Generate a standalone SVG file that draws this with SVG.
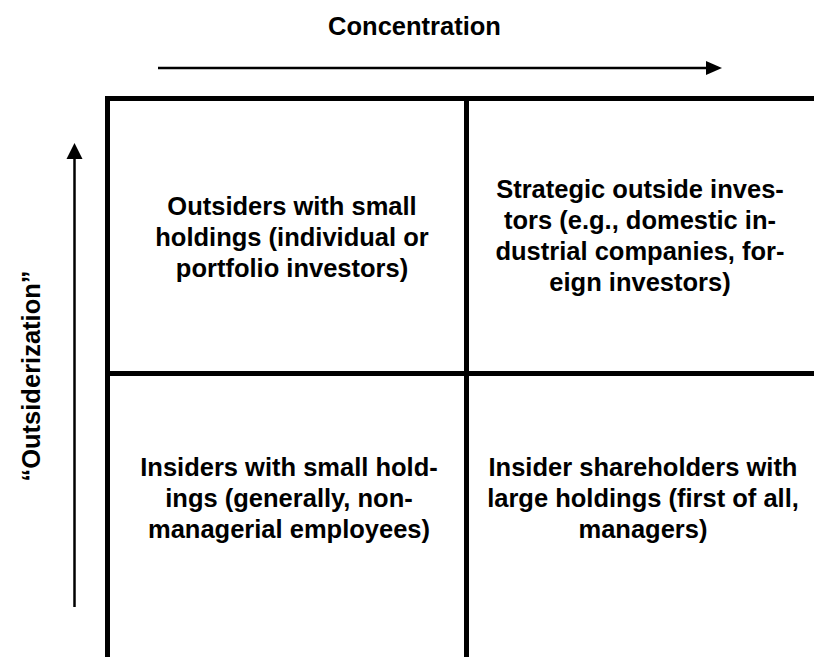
<svg xmlns="http://www.w3.org/2000/svg" width="814" height="657" viewBox="0 0 814 657">
<style>
.t{font-family:"Liberation Sans",Arial,sans-serif;font-weight:bold;font-size:25.5px;fill:#000;text-anchor:middle}
.g{stroke:#000;stroke-width:5;fill:none}
.a{stroke:#000;stroke-width:2.5;fill:none}
</style>
<rect width="814" height="657" fill="#fff"/>
<g id="grid">
<line class="g" x1="105" y1="98.5" x2="814" y2="98.5"/>
<line class="g" x1="107.5" y1="96" x2="107.5" y2="657"/>
<line class="g" x1="466.5" y1="96" x2="466.5" y2="657"/>
<line class="g" x1="105" y1="373.5" x2="814" y2="373.5"/>
</g>
<g id="connectors">
<line class="a" x1="158" y1="68" x2="707" y2="68"/>
<polygon points="706,61 722,68 706,75" fill="#000"/>
<line class="a" x1="74.5" y1="607" x2="74.5" y2="158"/>
<polygon points="66.5,159 74.5,143 82.5,159" fill="#000"/>
</g>
<g id="axis-x"><text class="t" x="414.5" y="35">Concentration</text></g>
<g id="axis-y"><text class="t" transform="translate(40,376) rotate(-90)" x="0" y="0">“Outsiderization”</text></g>
<g id="cell-tl"><text class="t"><tspan x="292" y="215">Outsiders with small</tspan><tspan x="292" y="246">holdings (individual or</tspan><tspan x="292" y="277">portfolio investors)</tspan></text></g>
<g id="cell-tr"><text class="t"><tspan x="640" y="198">Strategic outside inves-</tspan><tspan x="640" y="229">tors (e.g., domestic in-</tspan><tspan x="640" y="260">dustrial companies, for-</tspan><tspan x="640" y="291">eign investors)</tspan></text></g>
<g id="cell-bl"><text class="t"><tspan x="289" y="476">Insiders with small hold-</tspan><tspan x="289" y="507">ings (generally, non-</tspan><tspan x="289" y="538">managerial employees)</tspan></text></g>
<g id="cell-br"><text class="t"><tspan x="643" y="476">Insider shareholders with</tspan><tspan x="643" y="507">large holdings (first of all,</tspan><tspan x="643" y="538">managers)</tspan></text></g>
</svg>
